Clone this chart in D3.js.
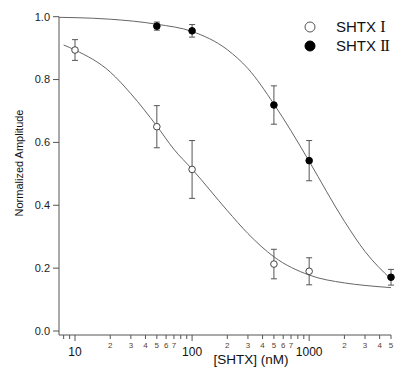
<!DOCTYPE html>
<html>
<head>
<meta charset="utf-8">
<script src="https://cdn.jsdelivr.net/npm/d3@7"></script>
<style>
  body { margin: 0; background: #fff; }
  svg text { font-family: "Liberation Sans", Arial, sans-serif; }
</style>
</head>
<body>
<svg id="root"></svg>
<script>
// measured points (concentration nM, normalized amplitude, sem)
const concI = [10, 50, 100, 500, 1000];
const ampI = [0.894, 0.650, 0.514, 0.213, 0.190];
const errI = [0.033, 0.067, 0.092, 0.047, 0.043];

const concII = [50, 100, 500, 1000, 5000];
const ampII = [0.970, 0.955, 0.719, 0.542, 0.171];
const errII = [0.013, 0.020, 0.061, 0.064, 0.025];

// fitted curves
const fitXI = [8, 10, 20, 30, 50, 70, 100, 200, 300, 500, 1000, 2000, 3000, 5000];
const fitYI = [0.91, 0.894, 0.824, 0.755, 0.652, 0.578, 0.515, 0.383, 0.31, 0.236, 0.178, 0.153, 0.145, 0.138];

const fitXII = [7.3, 10, 20, 50, 100, 200, 300, 500, 700, 1000, 2000, 3000, 5000];
const fitYII = [0.998, 0.997, 0.992, 0.976, 0.953, 0.895, 0.835, 0.722, 0.637, 0.54, 0.349, 0.253, 0.165];

const yTicks = [0, 0.2, 0.4, 0.6, 0.8, 1.0];
const majorX = [10, 100, 1000];
const minorX = [8, 9, 20, 30, 40, 50, 60, 70, 80, 90, 200, 300, 400, 500, 600, 700, 800, 900, 2000, 3000, 4000, 5000];
const minorLabeled = [2, 3, 4, 5, 6, 7];

const seriesNames = ['SHTX', 'SHTX'];
const seriesNumerals = ['I', 'II'];

const width = 400, height = 368;
const svg = d3.select('#root').attr('width', width).attr('height', height);

const x = d3.scaleLog().domain([7.3, 5000]).range([59, 391]);
const y = d3.scaleLinear().domain([0, 1]).range([331, 16.7]);
const axisY0 = 335;

const grey = '#555';

// y axis
const gy = svg.append('g').attr('transform', 'translate(59,0)');
gy.append('line').attr('y1', axisY0).attr('y2', y(1)).attr('stroke', grey);
gy.selectAll('.yt').data(yTicks).enter().append('line')
  .attr('x1', -6).attr('x2', 0)
  .attr('y1', d => y(d)).attr('y2', d => y(d)).attr('stroke', grey);
gy.selectAll('.yl').data(yTicks).enter().append('text')
  .attr('x', -9).attr('y', d => y(d)).attr('dy', '0.35em')
  .attr('text-anchor', 'end').attr('font-size', 11).attr('fill', '#222')
  .text(d3.format('.1f'));

svg.append('text')
  .attr('transform', 'translate(23,163) rotate(-90)')
  .attr('text-anchor', 'middle').attr('font-size', 11).attr('fill', '#111')
  .text('Normalized Amplitude');

// x axis
const gx = svg.append('g').attr('transform', `translate(0,${axisY0})`);
gx.append('line').attr('x1', 59).attr('x2', x(5000)).attr('stroke', grey);
gx.selectAll('.mj').data(majorX).enter().append('line')
  .attr('x1', d => x(d)).attr('x2', d => x(d)).attr('y1', 0).attr('y2', 6).attr('stroke', grey);
gx.selectAll('.mn').data(minorX).enter().append('line')
  .attr('x1', d => x(d)).attr('x2', d => x(d)).attr('y1', 0).attr('y2', 4).attr('stroke', grey);
gx.selectAll('.mjl').data(majorX).enter().append('text')
  .attr('x', d => x(d)).attr('y', 21).attr('text-anchor', 'middle')
  .attr('font-size', 12).attr('fill', '#111').text(d => d);
gx.selectAll('.mnl')
  .data(minorX.filter(d => minorLabeled.includes(d / Math.pow(10, Math.floor(Math.log10(d) + 1e-9)))))
  .enter().append('text')
  .attr('x', d => x(d)).attr('y', 13).attr('text-anchor', 'middle')
  .attr('font-size', 8).attr('fill', '#5a4030')
  .text(d => Math.round(d / Math.pow(10, Math.floor(Math.log10(d) + 1e-9))));

svg.append('text')
  .attr('x', 251).attr('y', 363.5).attr('text-anchor', 'middle')
  .attr('font-size', 13.5).attr('fill', '#111')
  .text('[SHTX] (nM)');

// fitted curves
const line = d3.line().x(d => x(d[0])).y(d => y(d[1])).curve(d3.curveMonotoneX);
svg.append('path').datum(d3.zip(fitXI, fitYI))
  .attr('d', line).attr('fill', 'none').attr('stroke', '#666').attr('stroke-width', 1);
svg.append('path').datum(d3.zip(fitXII, fitYII))
  .attr('d', line).attr('fill', 'none').attr('stroke', '#666').attr('stroke-width', 1);

// points with error bars
function drawSeries(xs, ys, es, filled) {
  const g = svg.append('g');
  const pts = d3.zip(xs, ys, es);
  const eb = g.selectAll('.eb').data(pts).enter().append('g').attr('stroke', grey);
  eb.append('line').attr('x1', d => x(d[0])).attr('x2', d => x(d[0]))
    .attr('y1', d => y(d[1] + d[2])).attr('y2', d => y(d[1] - d[2]));
  eb.append('line').attr('x1', d => x(d[0]) - 3).attr('x2', d => x(d[0]) + 3)
    .attr('y1', d => y(d[1] + d[2])).attr('y2', d => y(d[1] + d[2]));
  eb.append('line').attr('x1', d => x(d[0]) - 3).attr('x2', d => x(d[0]) + 3)
    .attr('y1', d => y(d[1] - d[2])).attr('y2', d => y(d[1] - d[2]));
  g.selectAll('circle').data(pts).enter().append('circle')
    .attr('cx', d => x(d[0])).attr('cy', d => y(d[1])).attr('r', 3.3)
    .attr('fill', filled ? '#000' : '#fff').attr('stroke', filled ? '#000' : '#444');
}
drawSeries(concI, ampI, errI, false);
drawSeries(concII, ampII, errII, true);

// legend
const lg = svg.append('g');
seriesNames.forEach((name, i) => {
  lg.append('circle').attr('cx', 310).attr('cy', 27 + i * 19).attr('r', 5)
    .attr('fill', i ? '#000' : '#fff').attr('stroke', i ? '#000' : '#555');
  const t = lg.append('text').attr('x', 336).attr('y', 27 + i * 19).attr('dy', '0.36em')
    .attr('font-size', 15).attr('fill', '#111');
  t.append('tspan').text(name + ' ');
  t.append('tspan').attr('font-family', '"Liberation Serif", serif').attr('font-size', 16)
    .attr('letter-spacing', -1).text(seriesNumerals[i]);
});
</script>
</body>
</html>
